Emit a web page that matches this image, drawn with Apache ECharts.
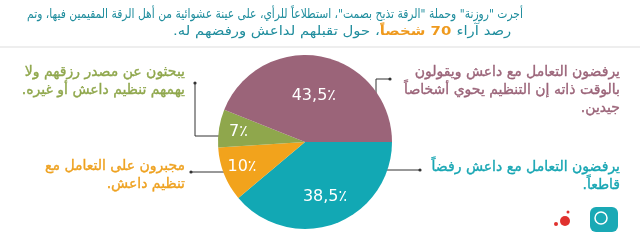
<!DOCTYPE html>
<html>
<head>
<meta charset="utf-8">
<script src="https://cdn.jsdelivr.net/npm/echarts@6/dist/echarts.min.js"></script>
<style>html,body{margin:0;padding:0;background:#fff;}#c{width:640px;height:246px;}</style>
</head>
<body>
<div id="c"></div>
<script>
// Data
const categories = ['يرفضون رفضاً قاطعاً', 'مجبرون على التعامل', 'يبحثون عن مصدر رزقهم', 'يرفضون ويقولون يحوي أشخاصاً جيدين'];
const values = [38.5, 10, 7, 43.5];
const colors = ['#12a8b4', '#f2a31c', '#8fa74c', '#9b6479'];
const labelTexts = [
  ['يرفضون التعامل مع داعش رفضاً', 'قاطعاً.'],
  ['مجبرون على التعامل مع', 'تنظيم داعش.'],
  ['يبحثون عن مصدر رزقهم ولا', 'يهمهم تنظيم داعش أو غيره.'],
  ['يرفضون التعامل مع داعش ويقولون', 'بالوقت ذاته إن التنظيم يحوي أشخاصاً', 'جيدين.']
];
const titleLine1 = 'أجرت "روزنة" وحملة "الرقة تذبح بصمت"، استطلاعاً للرأي، على عينة عشوائية من أهل الرقة المقيمين فيها، وتم';
const titleLine2Parts = ['، حول تقبلهم لداعش ورفضهم له.', '70 شخصاً', 'رصد آراء'];

const RLM = '\u200F';
const rtl = s => RLM + s + RLM;
const FONT = '"DejaVu Sans", sans-serif';
const CENTER = [305, 142];
const RADIUS = 87;
const labelFactor = [1.26, 1.46, 1.45, 1.0];

const mctx = document.createElement('canvas').getContext('2d');
function measure(str, font) { mctx.font = font; return mctx.measureText(str).width; }

const chart = echarts.init(document.getElementById('c'), null, {renderer: 'canvas'});

function textBlock(lines, x, y, color) {
  return {
    type: 'text', x: x, y: y,
    style: {
      text: lines.map(rtl).join('\n'),
      fill: color, stroke: color, lineWidth: 0.35, font: '14px ' + FONT, align: 'right',
      verticalAlign: 'top', lineHeight: 18
    }
  };
}
function dot(x, y) {
  return {type: 'circle', shape: {cx: x, cy: y, r: 1.6}, style: {fill: '#333'}};
}
function poly(pts) {
  return {type: 'polyline', shape: {points: pts}, style: {stroke: '#333', lineWidth: 1, fill: null}};
}

const TF = '13px ' + FONT, TFB = 'bold 13px ' + FONT;
const t1 = rtl(titleLine1);
const s0 = rtl(titleLine2Parts[0]), s1 = rtl(' ' + titleLine2Parts[1]), s2 = rtl(' ' + titleLine2Parts[2]);
const w1 = measure(t1, TF);
const w2 = measure(s0, TF) + measure(s1, TFB) + measure(s2, TF);
const sc1 = Math.min(1.2, 496 / w1), sc2 = Math.min(1.2, 343 / w2);

chart.setOption({
  animation: false,
  series: [{
    type: 'pie',
    center: CENTER,
    radius: RADIUS,
    startAngle: 0,
    clockwise: true,
    silent: true,
    data: values.map((v, i) => ({value: v, name: categories[i], itemStyle: {color: colors[i]}})),
    label: {
      show: true, position: 'inside', color: '#fff', fontSize: 16, fontFamily: FONT,
      formatter: p => String(p.value).replace('.', ',') + '٪'
    },
    labelLine: {show: false},
    labelLayout: function (p) {
      const r = p.labelRect;
      const cx = r.x + r.width / 2, cy = r.y + r.height / 2;
      const f = labelFactor[p.dataIndex];
      return {dx: (cx - CENTER[0]) * (f - 1), dy: (cy - CENTER[1]) * (f - 1)};
    }
  }],
  graphic: [
    {type: 'rect', shape: {x: 0, y: 46, width: 640, height: 2}, style: {fill: '#eeeeee'}},
    {
      type: 'text', x: 523, y: 15, scaleX: sc1,
      style: {text: t1, align: 'right', verticalAlign: 'middle', fill: '#1f8d9d', font: TF}
    },
    {
      type: 'text', x: 516, y: 32, scaleX: sc2,
      style: {
        text: '{a|' + s0 + '}{b|' + s1 + '}{a|' + s2 + '}', align: 'right', verticalAlign: 'middle',
        rich: {
          a: {fill: '#1f8d9d', font: TF},
          b: {fill: '#ef9a1e', font: TFB}
        }
      }
    },
    textBlock(labelTexts[3], 620, 63, '#9b6479'),
    textBlock(labelTexts[0], 620, 158, '#17a6b3'),
    textBlock(labelTexts[2], 185, 63, '#8fa74c'),
    textBlock(labelTexts[1], 185, 157, '#eea11f'),
    poly([[390, 79], [376, 79], [376, 105]]), dot(390, 79),
    poly([[377, 170], [420, 170]]), dot(420, 170),
    poly([[195, 83], [195, 136], [222, 136]]), dot(195, 83),
    poly([[191, 172], [227, 172]]), dot(191, 172),
    {type: 'rect', shape: {x: 590, y: 207, width: 28, height: 25, r: 6}, style: {fill: '#1aa9b5'}},
    {type: 'circle', shape: {cx: 601, cy: 218, r: 6}, style: {fill: null, stroke: '#fff', lineWidth: 1.5}},
    {type: 'circle', shape: {cx: 565, cy: 221, r: 5}, style: {fill: '#e0312e'}},
    {type: 'circle', shape: {cx: 556, cy: 224, r: 2}, style: {fill: '#e0312e'}},
    {type: 'circle', shape: {cx: 568, cy: 212, r: 1.5}, style: {fill: '#e0312e'}}
  ]
});
</script>
</body>
</html>
